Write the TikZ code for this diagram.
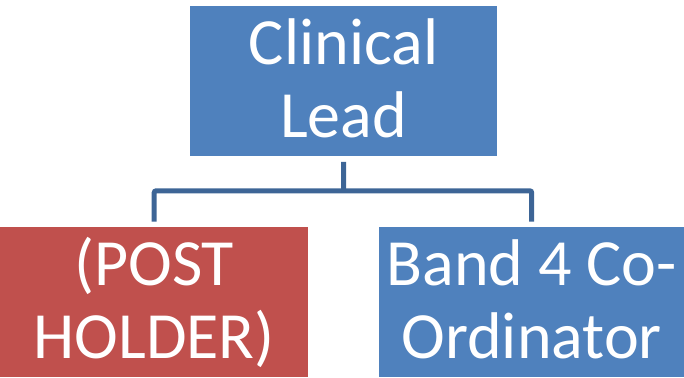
\documentclass[tikz,border=0pt]{standalone}
\usepackage{fontspec}
\setmainfont{Carlito}
\definecolor{boxblue}{HTML}{4F81BD}
\definecolor{boxred}{HTML}{C0504D}
\definecolor{connblue}{HTML}{3D6596}
\newcommand\mylift{\rule[-6pt]{0pt}{6pt}}
\begin{document}
\begin{tikzpicture}[x=1pt,y=-1pt,
  orgbox/.style={draw=none, inner sep=0pt, anchor=north west, text=white, align=center,
    font=\fontsize{66}{73}\selectfont},
  conn/.style={draw=connblue, line width=5pt, rounded corners=2pt}]
\useasboundingbox (0,0) rectangle (684,377);
\node[orgbox, fill=boxblue, minimum width=307pt, minimum height=150.5pt] (top) at (190,5.5) {Clinical\\Lead\mylift};
\node[orgbox, fill=boxred, minimum width=308pt, minimum height=150pt] (left) at (0,227) {(POST\\HOLDER)\mylift};
\node[orgbox, fill=boxblue, minimum width=305pt, minimum height=150pt] (right) at (379,227) {Band 4 Co-\\Ordinator\mylift};
\coordinate (mid) at (343.5,190.8);
\draw[conn] ([yshift=-5.5pt]top.south) -- (mid);
\draw[conn] ([yshift=5.3pt]left.north) |- (mid) -| ([yshift=5.3pt]right.north);
\end{tikzpicture}
\end{document}
